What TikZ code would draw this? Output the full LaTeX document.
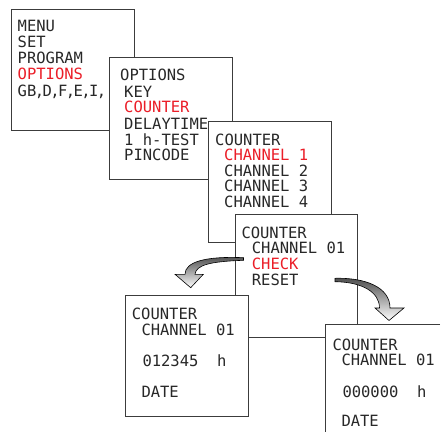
\documentclass[tikz,border=0pt]{standalone}
\usepackage{fontspec}
\newfontfamily\lcd{DejaVu Sans Mono}
\definecolor{lcdred}{RGB}{235,30,40}
\definecolor{frame}{RGB}{60,60,60}
\definecolor{ink}{RGB}{40,40,40}
\newcommand\nc{\makebox[6.2pt][c]{,}}
\begin{document}
\begin{tikzpicture}[x=1pt,y=-1pt,
  screen/.style={draw=frame, line width=0.8pt, fill=white},
  txt/.style={anchor=base west, inner sep=0pt, font=\lcd\fontsize{15.5}{16}\selectfont, text=ink},
  sel/.style={txt, text=lcdred},
  blockarrow/.style={draw=black, line width=0.6pt, top color=gray!60!black, bottom color=white}]
\useasboundingbox (0,0) rectangle (440,441);

% screen 1
\draw[screen] (11,9) rectangle (134,130);
\node[txt] (a1) at (17.5,31.7) {MENU};
\node[txt] (a2) at (17.5,47.3) {SET};
\node[txt] (a3) at (17.5,63.3) {PROGRAM};
\node[sel] (a4) at (17.5,80) {OPTIONS};
\node[txt] (a5) at (17.5,96.7) {GB\nc D\nc F\nc E\nc I\nc};

% screen 2
\draw[screen] (109.5,57.5) rectangle (232.7,179);
\node[txt] (b1) at (120,80.7) {OPTIONS};
\node[txt] (b2) at (124,97.3) {KEY};
\node[sel] (b3) at (124,113) {COUNTER};
\node[txt] (b4) at (124,129.3) {DELAYTIME};
\node[txt] (b5) at (124,145.3) {1 h-TEST};
\node[txt] (b6) at (124,160.5) {PINCODE};

% screen 3
\draw[screen] (208,121.7) rectangle (331.7,242.7);
\node[txt] (c1) at (215,145) {COUNTER};
\node[sel] (c2) at (224,160.7) {CHANNEL 1};
\node[txt] (c3) at (224,176) {CHANNEL 2};
\node[txt] (c4) at (224,191.7) {CHANNEL 3};
\node[txt] (c5) at (224,207.3) {CHANNEL 4};

% screen 4
\draw[screen] (235,214.5) rectangle (357.5,337);
\node[txt] (d1) at (241.3,238.3) {COUNTER};
\node[txt] (d2) at (251.7,253.3) {CHANNEL 01};
\node[sel] (d3) at (251.7,269.3) {CHECK};
\node[txt] (d4) at (251.7,285.7) {RESET};

% screen 5
\draw[screen] (125.7,295) rectangle (248.3,416.7);
\node[txt] (e1) at (131.7,319.3) {COUNTER};
\node[txt] (e2) at (141.3,335) {CHANNEL 01};
\node[txt] (e3) at (142.3,366) {012345~~h};
\node[txt] (e4) at (141.3,397.3) {DATE};

% screen 6 (cut off by the picture edge)
\fill[white] (325.7,324.3) rectangle (440,441);
\draw[frame, line width=0.8pt] (440,324.3) -- (325.7,324.3) -- (325.7,432);
\node[txt] (f1) at (332.3,350) {COUNTER};
\node[txt] (f2) at (341.3,365) {CHANNEL 01};
\node[txt] (f3) at (342.3,397.3) {000000~~h};
\node[txt] (f4) at (341.3,426) {DATE};

% arrow from CHECK
\path[blockarrow] (243.5,257.7) .. controls (205,256) and (185,262) .. (185,274.3)
  -- (175,274.3) -- (190.7,287.7) -- (203.3,274.3) -- (195,274.3)
  .. controls (196,265) and (210,261.5) .. (243.5,260.3) -- cycle;

% arrow from RESET
\path[blockarrow] (335,278.3) .. controls (365,277.5) and (390,287) .. (390,308)
  -- (404,308) -- (389,320.5) -- (375,308) -- (379.5,308)
  .. controls (379.5,292) and (362,282) .. (335,281.7) -- cycle;
\end{tikzpicture}
\end{document}
